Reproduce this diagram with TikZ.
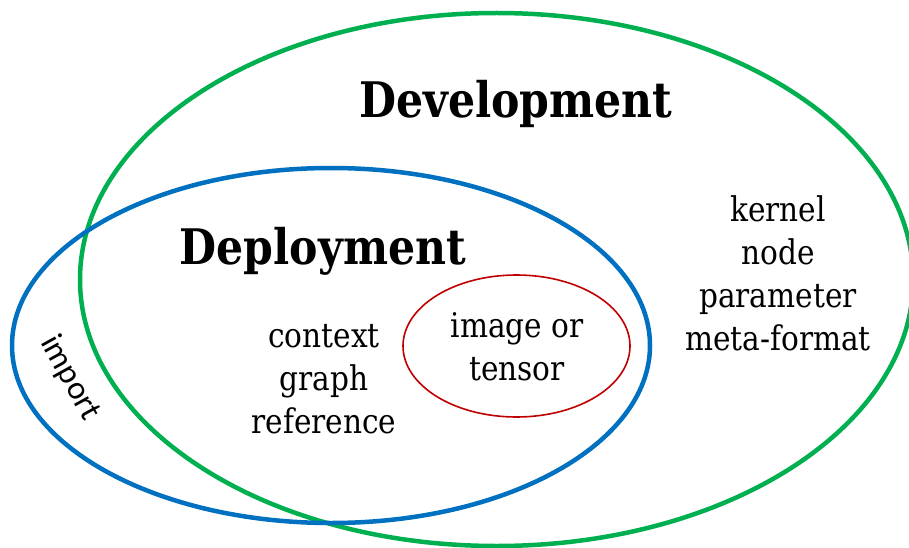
\documentclass[tikz,border=0pt]{standalone}
\usepackage{fontspec}
\newfontfamily\vserif[FakeStretch=0.87]{DejaVu Serif}
\newfontfamily\vsans{Carlito}
\definecolor{devgreen}{RGB}{0,176,80}
\definecolor{depblue}{RGB}{0,112,192}
\definecolor{imgred}{RGB}{192,0,0}
\tikzset{
  title/.style={inner sep=0pt, anchor=base, font=\vserif\bfseries\fontsize{49}{58}\selectfont},
  item/.style={inner sep=0pt, anchor=base, font=\vserif\fontsize{34}{43}\selectfont},
  set/.style={line width=4.5pt},
}
\begin{document}
\begin{tikzpicture}[x=1pt,y=-1pt]
\useasboundingbox (0,0) rectangle (909,548);
\clip (0,0) rectangle (909,548);
% sets
\draw[set, devgreen] (496.6,279.5) ellipse [x radius=416.6pt, y radius=266.5pt];
\draw[set, depblue] (331,345.5) ellipse [x radius=319pt, y radius=177.5pt];
\draw[line width=1.6pt, imgred] (516.5,346) ellipse [x radius=113.5pt, y radius=71pt];
% titles
\node[title] (dev) at (516,118) {Development};
\node[title] (dep) at (323,264) {Deployment};
% development items
\node[item] (kernel) at (778,221) {kernel};
\node[item] (node) at (778,264) {node};
\node[item] (param) at (778,307) {parameter};
\node[item] (meta) at (778,350) {meta-format};
% deployment items
\node[item] (context) at (324,347) {context};
\node[item] (graph) at (324,390) {graph};
\node[item] (ref) at (324,433) {reference};
% image or tensor
\node[item] (image) at (517,337) {image or};
\node[item] (tensor) at (517,380) {tensor};
% import
\node[inner sep=0pt, font=\vsans\fontsize{33}{38}\selectfont, rotate=-61] (import) at (70,378) {import};
\end{tikzpicture}
\end{document}
